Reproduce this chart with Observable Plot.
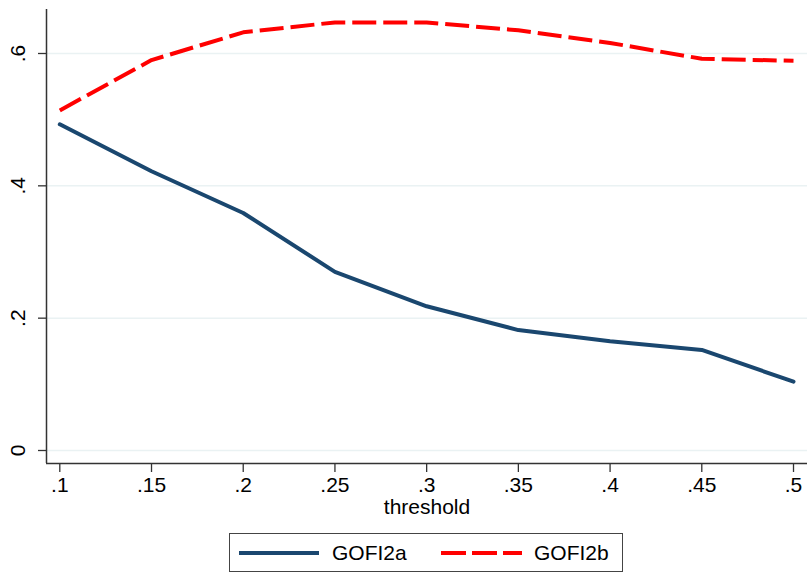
<!DOCTYPE html>
<html>
<head>
<meta charset="utf-8">
<script src="https://cdn.jsdelivr.net/npm/d3@7"></script>
<script src="https://cdn.jsdelivr.net/npm/@observablehq/plot@0.6"></script>
<style>
  html, body { margin: 0; padding: 0; background: #fff; }
  #wrap { position: relative; width: 808px; height: 576px; font-family: "Liberation Sans", Arial, Helvetica, sans-serif; }
  #legend { position: absolute; left: 229px; top: 533px; width: 392px; height: 37px; border: 1.5px solid #444; box-sizing: content-box; }
  #legend svg { position: absolute; left: 0; top: 0; }
  #legend .lab { position: absolute; top: 7px; font-size: 21px; color: #000; line-height: 24px; }
</style>
</head>
<body>
<div id="wrap"></div>
<script>
const thresholds = [0.10, 0.15, 0.20, 0.25, 0.30, 0.35, 0.40, 0.45, 0.50];
const gofi2a = [0.493, 0.422, 0.359, 0.270, 0.218, 0.182, 0.165, 0.152, 0.104];
const gofi2b = [0.514, 0.590, 0.632, 0.647, 0.647, 0.635, 0.616, 0.592, 0.589];
const seriesNames = ["GOFI2a", "GOFI2b"];
const xTicks = [0.10, 0.15, 0.20, 0.25, 0.30, 0.35, 0.40, 0.45, 0.50];
const xTickLabels = [".1", ".15", ".2", ".25", ".3", ".35", ".4", ".45", ".5"];
const yTicks = [0, 0.2, 0.4, 0.6];
const yTickLabels = ["0", ".2", ".4", ".6"];
const xLabel = "threshold";

const navy = "#1a476f";
const red = "#ff0000";
const xDomain = [0.09275, 0.50763];
const yDomain = [-0.01965, 0.6665];

const dataA = thresholds.map((t, i) => ({x: t, y: gofi2a[i]}));
const dataB = thresholds.map((t, i) => ({x: t, y: gofi2b[i]}));

const chart = Plot.plot({
  width: 808,
  height: 524,
  marginLeft: 46,
  marginRight: 1,
  marginTop: 9,
  marginBottom: 61,
  style: {fontFamily: '"Liberation Sans", Arial, Helvetica, sans-serif', fontSize: "21px", color: "#000", background: "#fff"},
  x: {domain: xDomain},
  y: {domain: yDomain},
  marks: [
    Plot.gridY(yTicks, {stroke: "#eaf2f3", strokeWidth: 1.5, strokeOpacity: 1}),
    Plot.axisY(yTicks, {
      tickSize: 8, stroke: "#333", strokeWidth: 1.3,
      tickFormat: () => "", label: null
    }),
    Plot.text(yTicks, {
      y: (d) => d, text: (d) => yTickLabels[yTicks.indexOf(d)],
      frameAnchor: "left", dx: -28, rotate: -90,
      textAnchor: "middle", lineAnchor: "middle", fontSize: 21, fill: "#000"
    }),
    Plot.axisX(xTicks, {
      tickSize: 9, tickPadding: 5, stroke: "#333", strokeWidth: 1.3,
      tickFormat: (d) => xTickLabels[xTicks.indexOf(d)],
      fontSize: 21, label: null
    }),
    Plot.ruleX([xDomain[0]], {stroke: "#333", strokeWidth: 1.5}),
    Plot.ruleY([yDomain[0]], {stroke: "#333", strokeWidth: 1.5}),
    Plot.line(dataA, {x: "x", y: "y", stroke: navy, strokeWidth: 4, strokeLinejoin: "round"}),
    Plot.line(dataB, {x: "x", y: "y", stroke: red, strokeWidth: 4, strokeDasharray: "24,7", strokeLinecap: "butt"}),
    Plot.text([xLabel], {frameAnchor: "bottom", dy: 44, lineAnchor: "middle", fontSize: 21, fill: "#000"})
  ]
});

const wrap = document.getElementById("wrap");
wrap.appendChild(chart);

const legend = document.createElement("div");
legend.id = "legend";
legend.innerHTML = `
  <svg width="392" height="37">
    <line x1="9" x2="89" y1="19" y2="19" stroke="${navy}" stroke-width="4"></line>
    <line x1="211" x2="292" y1="19" y2="19" stroke="${red}" stroke-width="4" stroke-dasharray="25,6"></line>
  </svg>
  <span class="lab" style="left:102px">${seriesNames[0]}</span>
  <span class="lab" style="left:304px">${seriesNames[1]}</span>`;
wrap.appendChild(legend);
</script>
</body>
</html>
